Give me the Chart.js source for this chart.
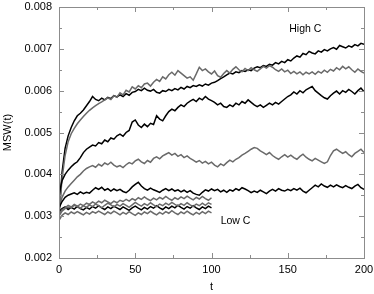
<!DOCTYPE html>
<html>
<head>
<meta charset="utf-8">
<script src="https://cdn.jsdelivr.net/npm/chart.js@4.4.0/dist/chart.umd.min.js"></script>
<style>
  html, body { margin: 0; padding: 0; background: #fff; }
  #wrap { width: 374px; height: 294px; }
</style>
</head>
<body>
<div id="wrap"><canvas id="mswChart" width="374" height="294"></canvas></div>
<script>
// tiempos (eje x)
const tLong = [0,2,4,6,8,10,12,14,16,18,20,22,24,26,28,30,32,34,36,38,40,42,44,46,48,50,52,54,56,58,60,62,64,66,68,70,72,74,76,78,80,82,84,86,88,90,92,94,96,98,100,102,104,106,108,110,112,114,116,118,120,122,124,126,128,130,132,134,136,138,140,142,144,146,148,150,152,154,156,158,160,162,164,166,168,170,172,174,176,178,180,182,184,186,188,190,192,194,196,198,200];
const tShort = [0,2,4,6,8,10,12,14,16,18,20,22,24,26,28,30,32,34,36,38,40,42,44,46,48,50,52,54,56,58,60,62,64,66,68,70,72,74,76,78,80,82,84,86,88,90,92,94,96,98,100];

const xTickLabels = [0, 50, 100, 150, 200];
const yTickLabels = ['0.002', '0.003', '0.004', '0.005', '0.006', '0.007', '0.008'];

// High C (negro, arriba)
const highBlack = [0.00300,0.00405,0.00462,0.00492,0.00512,0.00528,0.00540,0.00546,0.00554,0.00564,0.00574,0.00586,0.00579,0.00576,0.00582,0.00578,0.00584,0.00581,0.00588,0.00585,0.00590,0.00586,0.00593,0.00589,0.00596,0.00598,0.00603,0.00600,0.00606,0.00601,0.00599,0.00603,0.00596,0.00594,0.00600,0.00598,0.00603,0.00600,0.00605,0.00602,0.00608,0.00604,0.00610,0.00607,0.00612,0.00610,0.00614,0.00611,0.00616,0.00613,0.00618,0.00620,0.00624,0.00629,0.00633,0.00638,0.00642,0.00640,0.00645,0.00643,0.00648,0.00646,0.00650,0.00648,0.00654,0.00657,0.00655,0.00660,0.00658,0.00663,0.00661,0.00667,0.00664,0.00670,0.00667,0.00674,0.00671,0.00678,0.00683,0.00680,0.00689,0.00686,0.00694,0.00690,0.00688,0.00695,0.00692,0.00698,0.00695,0.00700,0.00703,0.00699,0.00708,0.00705,0.00702,0.00707,0.00704,0.00710,0.00707,0.00713,0.00711];
const highGray = [0.00300,0.00390,0.00445,0.00478,0.00497,0.00510,0.00521,0.00530,0.00538,0.00546,0.00553,0.00559,0.00564,0.00569,0.00573,0.00578,0.00583,0.00579,0.00588,0.00584,0.00595,0.00590,0.00601,0.00597,0.00609,0.00604,0.00612,0.00607,0.00616,0.00618,0.00611,0.00620,0.00627,0.00622,0.00633,0.00628,0.00638,0.00644,0.00637,0.00648,0.00642,0.00636,0.00630,0.00633,0.00625,0.00640,0.00656,0.00648,0.00652,0.00645,0.00640,0.00647,0.00636,0.00632,0.00641,0.00648,0.00642,0.00651,0.00657,0.00650,0.00645,0.00653,0.00648,0.00655,0.00650,0.00646,0.00652,0.00658,0.00654,0.00660,0.00656,0.00650,0.00646,0.00652,0.00645,0.00649,0.00641,0.00646,0.00640,0.00645,0.00638,0.00644,0.00640,0.00645,0.00639,0.00646,0.00642,0.00649,0.00644,0.00651,0.00647,0.00655,0.00650,0.00658,0.00652,0.00657,0.00650,0.00644,0.00652,0.00646,0.00642];
const midBlack = [0.00350,0.00385,0.00400,0.00410,0.00418,0.00425,0.00430,0.00440,0.00452,0.00460,0.00465,0.00470,0.00468,0.00476,0.00473,0.00482,0.00478,0.00487,0.00484,0.00492,0.00496,0.00491,0.00500,0.00505,0.00525,0.00530,0.00518,0.00512,0.00520,0.00514,0.00522,0.00519,0.00540,0.00532,0.00528,0.00540,0.00550,0.00556,0.00552,0.00560,0.00566,0.00562,0.00570,0.00575,0.00579,0.00574,0.00582,0.00578,0.00586,0.00580,0.00576,0.00572,0.00566,0.00570,0.00562,0.00560,0.00566,0.00562,0.00570,0.00566,0.00574,0.00570,0.00578,0.00572,0.00566,0.00562,0.00566,0.00560,0.00565,0.00570,0.00566,0.00572,0.00568,0.00574,0.00580,0.00586,0.00590,0.00597,0.00592,0.00600,0.00595,0.00602,0.00606,0.00610,0.00600,0.00594,0.00588,0.00583,0.00580,0.00588,0.00594,0.00599,0.00592,0.00600,0.00596,0.00603,0.00598,0.00592,0.00600,0.00606,0.00598];
const midGray = [0.00320,0.00345,0.00360,0.00370,0.00378,0.00386,0.00394,0.00400,0.00408,0.00414,0.00418,0.00421,0.00417,0.00424,0.00420,0.00427,0.00423,0.00429,0.00422,0.00418,0.00421,0.00416,0.00423,0.00428,0.00425,0.00432,0.00436,0.00430,0.00426,0.00433,0.00429,0.00438,0.00442,0.00437,0.00444,0.00448,0.00452,0.00446,0.00450,0.00443,0.00447,0.00440,0.00444,0.00438,0.00434,0.00429,0.00433,0.00427,0.00431,0.00425,0.00429,0.00422,0.00418,0.00425,0.00421,0.00428,0.00434,0.00430,0.00436,0.00440,0.00446,0.00450,0.00455,0.00460,0.00464,0.00462,0.00456,0.00452,0.00447,0.00452,0.00445,0.00440,0.00436,0.00442,0.00447,0.00441,0.00446,0.00440,0.00436,0.00443,0.00448,0.00441,0.00436,0.00432,0.00438,0.00434,0.00430,0.00426,0.00430,0.00445,0.00456,0.00460,0.00455,0.00450,0.00454,0.00447,0.00442,0.00450,0.00455,0.00460,0.00452];
const lowBlack = [0.00320,0.00335,0.00345,0.00350,0.00353,0.00356,0.00352,0.00358,0.00354,0.00357,0.00355,0.00362,0.00368,0.00364,0.00369,0.00362,0.00366,0.00360,0.00365,0.00361,0.00364,0.00359,0.00356,0.00362,0.00370,0.00376,0.00381,0.00372,0.00366,0.00362,0.00367,0.00363,0.00360,0.00357,0.00362,0.00366,0.00361,0.00365,0.00360,0.00363,0.00358,0.00362,0.00357,0.00361,0.00355,0.00352,0.00350,0.00357,0.00363,0.00360,0.00365,0.00361,0.00364,0.00358,0.00362,0.00357,0.00363,0.00360,0.00366,0.00362,0.00368,0.00365,0.00361,0.00356,0.00360,0.00357,0.00362,0.00358,0.00354,0.00360,0.00364,0.00360,0.00366,0.00362,0.00360,0.00364,0.00361,0.00366,0.00362,0.00367,0.00360,0.00356,0.00362,0.00368,0.00374,0.00370,0.00377,0.00372,0.00369,0.00374,0.00370,0.00375,0.00371,0.00368,0.00373,0.00369,0.00366,0.00372,0.00376,0.00368,0.00364];

// Low C (hasta t = 100)
const lowC1 = [0.00300,0.00312,0.00318,0.00322,0.00320,0.00326,0.00323,0.00329,0.00325,0.00331,0.00328,0.00334,0.00330,0.00336,0.00332,0.00338,0.00334,0.00330,0.00336,0.00332,0.00338,0.00335,0.00340,0.00336,0.00342,0.00338,0.00344,0.00340,0.00346,0.00341,0.00337,0.00343,0.00339,0.00345,0.00341,0.00347,0.00342,0.00338,0.00344,0.00340,0.00346,0.00342,0.00348,0.00343,0.00339,0.00345,0.00341,0.00347,0.00342,0.00338,0.00344];
const lowC2 = [0.00310,0.00318,0.00322,0.00316,0.00321,0.00317,0.00323,0.00318,0.00315,0.00321,0.00317,0.00323,0.00319,0.00325,0.00320,0.00316,0.00322,0.00318,0.00324,0.00320,0.00316,0.00322,0.00318,0.00314,0.00320,0.00324,0.00319,0.00315,0.00321,0.00317,0.00323,0.00319,0.00325,0.00320,0.00316,0.00322,0.00318,0.00324,0.00320,0.00326,0.00321,0.00317,0.00323,0.00319,0.00325,0.00320,0.00316,0.00322,0.00318,0.00324,0.00320];
const lowC3 = [0.00290,0.00302,0.00308,0.00304,0.00310,0.00306,0.00311,0.00307,0.00303,0.00309,0.00305,0.00311,0.00307,0.00312,0.00308,0.00304,0.00310,0.00306,0.00312,0.00308,0.00303,0.00309,0.00305,0.00311,0.00306,0.00302,0.00308,0.00304,0.00310,0.00306,0.00312,0.00307,0.00303,0.00309,0.00305,0.00311,0.00307,0.00313,0.00308,0.00304,0.00310,0.00306,0.00312,0.00307,0.00303,0.00309,0.00305,0.00311,0.00306,0.00312,0.00308];
const lowC4 = [0.00305,0.00315,0.00320,0.00326,0.00322,0.00328,0.00324,0.00319,0.00325,0.00321,0.00327,0.00323,0.00329,0.00325,0.00320,0.00326,0.00331,0.00327,0.00322,0.00328,0.00324,0.00330,0.00326,0.00321,0.00327,0.00333,0.00328,0.00324,0.00330,0.00326,0.00332,0.00327,0.00323,0.00329,0.00325,0.00331,0.00327,0.00333,0.00328,0.00324,0.00330,0.00326,0.00332,0.00327,0.00323,0.00329,0.00325,0.00331,0.00326,0.00332,0.00328];

const BLACK = '#000000';
const GRAY = '#6a6a6a';
const FRAME = '#8c8c8c';
const FONT = '"Liberation Sans", Arial, sans-serif';

function toPoints(ts, ys) {
    return ys.map((y, i) => ({ x: ts[i], y: y }));
}

function makeSet(ts, ys, color) {
    return {
        data: toPoints(ts, ys),
        borderColor: color,
        borderWidth: 1.5,
        pointRadius: 0,
        tension: 0,
        fill: false
    };
}

// marco completo con marcas hacia dentro, como en el original
const innerTicksPlugin = {
    id: 'innerTicks',
    afterDraw(chart) {
        const ctx = chart.ctx;
        const a = chart.chartArea;
        const xs = chart.scales.x;
        const ys = chart.scales.y;
        ctx.save();
        ctx.strokeStyle = FRAME;
        ctx.lineWidth = 1;
        ctx.strokeRect(a.left + 0.5, a.top + 0.5, a.right - a.left, a.bottom - a.top);
        ctx.beginPath();
        for (let v = 0; v <= 200; v += 25) {
            const len = v % 50 === 0 ? 5 : 3;
            const px = Math.round(xs.getPixelForValue(v)) + 0.5;
            ctx.moveTo(px, a.bottom); ctx.lineTo(px, a.bottom - len);
            ctx.moveTo(px, a.top); ctx.lineTo(px, a.top + len);
        }
        for (let k = 0; k <= 12; k++) {
            const v = 0.002 + k * 0.0005;
            const len = k % 2 === 0 ? 5 : 3;
            const py = Math.round(ys.getPixelForValue(v)) + 0.5;
            ctx.moveTo(a.left, py); ctx.lineTo(a.left + len, py);
            ctx.moveTo(a.right, py); ctx.lineTo(a.right - len, py);
        }
        ctx.stroke();

        // etiquetas High C / Low C
        ctx.fillStyle = BLACK;
        ctx.font = '10.5px ' + FONT;
        ctx.textBaseline = 'middle';
        ctx.textAlign = 'left';
        ctx.fillText('High C', xs.getPixelForValue(151), ys.getPixelForValue(0.00746));
        ctx.fillText('Low C', xs.getPixelForValue(106), ys.getPixelForValue(0.00288));
        ctx.restore();
    }
};

function initChart() {
    const ctx = document.getElementById('mswChart').getContext('2d');
    new Chart(ctx, {
        type: 'line',
        data: {
            datasets: [
                makeSet(tShort, lowC3, GRAY),
                makeSet(tShort, lowC4, GRAY),
                makeSet(tShort, lowC1, GRAY),
                makeSet(tShort, lowC2, BLACK),
                makeSet(tLong, lowBlack, BLACK),
                makeSet(tLong, midGray, GRAY),
                makeSet(tLong, midBlack, BLACK),
                makeSet(tLong, highGray, GRAY),
                makeSet(tLong, highBlack, BLACK)
            ]
        },
        options: {
            responsive: false,
            animation: false,
            events: [],
            layout: { padding: { top: 7, right: 10, left: 0, bottom: 0 } },
            plugins: {
                legend: { display: false },
                tooltip: { enabled: false }
            },
            scales: {
                x: {
                    type: 'linear',
                    min: 0,
                    max: 200,
                    afterBuildTicks: scale => {
                        scale.ticks = xTickLabels.map(v => ({ value: v }));
                    },
                    afterFit: scale => {
                        scale.height = 36;
                        scale.paddingLeft = 0;
                        scale.paddingRight = 0;
                    },
                    grid: { display: false, drawTicks: false },
                    border: { display: false },
                    ticks: {
                        color: BLACK,
                        padding: 5,
                        maxRotation: 0,
                        font: { family: FONT, size: 11 },
                        callback: v => String(v)
                    },
                    title: {
                        display: true,
                        text: 't',
                        color: BLACK,
                        padding: { top: 0, bottom: 0 },
                        font: { family: FONT, size: 11 }
                    }
                },
                y: {
                    type: 'linear',
                    min: 0.002,
                    max: 0.008,
                    afterBuildTicks: scale => {
                        scale.ticks = yTickLabels.map(s => ({ value: parseFloat(s) }));
                    },
                    afterFit: scale => {
                        scale.width = 59;
                        scale.paddingTop = 0;
                        scale.paddingBottom = 0;
                    },
                    grid: { display: false, drawTicks: false },
                    border: { display: false },
                    ticks: {
                        color: BLACK,
                        padding: 7,
                        font: { family: FONT, size: 11 },
                        callback: v => v.toFixed(3)
                    },
                    title: {
                        display: true,
                        text: 'MSW(t)',
                        color: BLACK,
                        padding: { top: 1, bottom: 0 },
                        font: { family: FONT, size: 11 }
                    }
                }
            }
        },
        plugins: [innerTicksPlugin]
    });
}

initChart();
</script>
</body>
</html>
